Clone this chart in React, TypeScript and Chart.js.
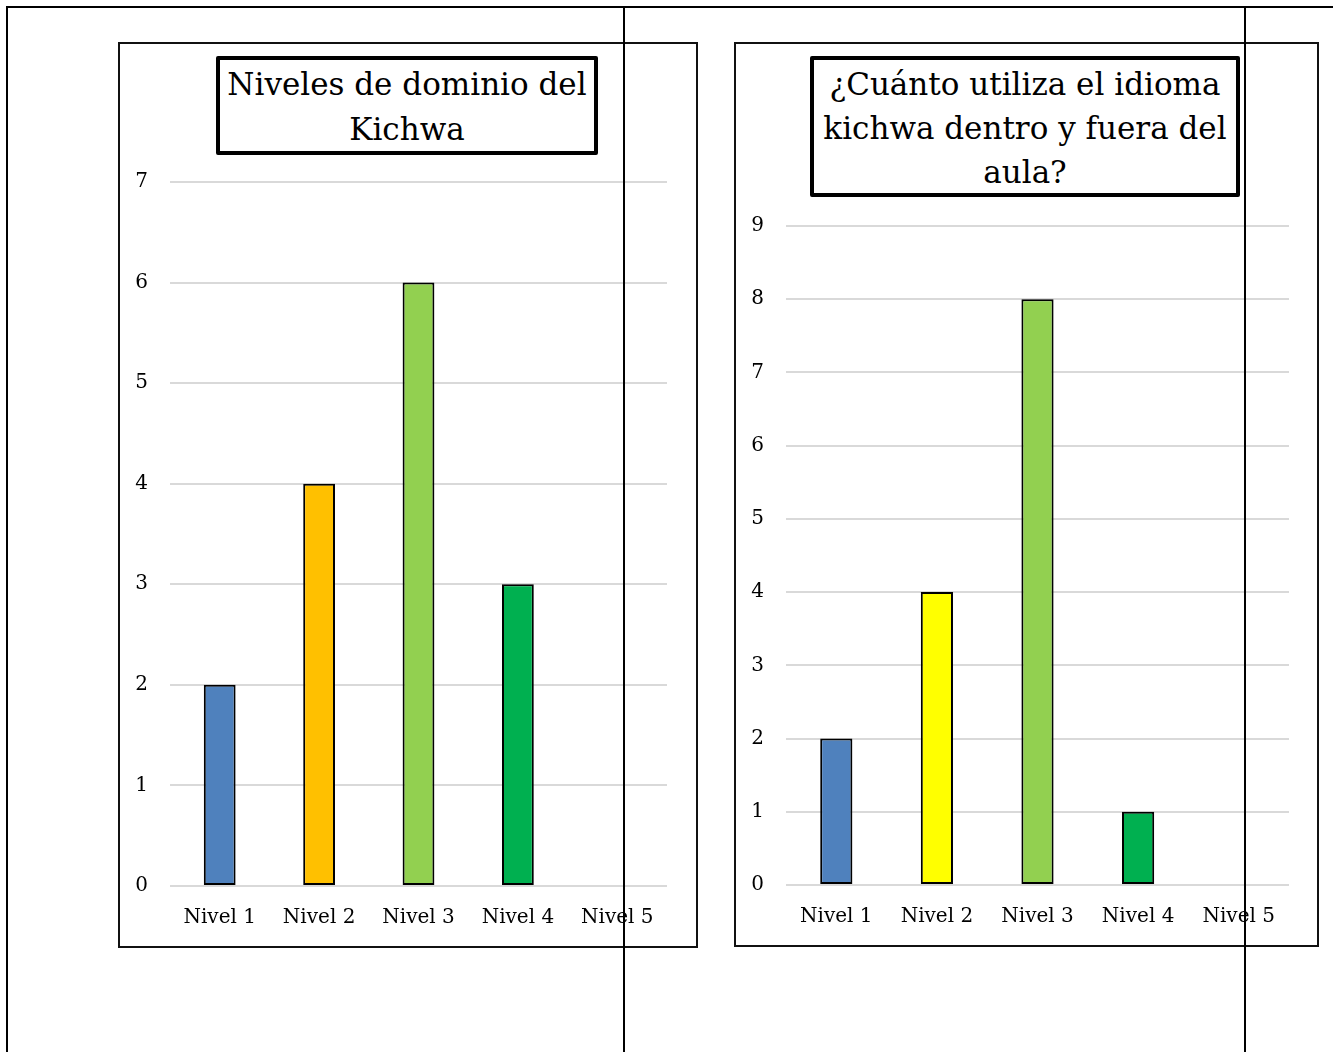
import React, { useEffect, useRef } from "react";
import { Chart, registerables } from "chart.js";

Chart.register(...registerables);

const categories = ["Nivel 1", "Nivel 2", "Nivel 3", "Nivel 4", "Nivel 5"];

const dominioTitle = ["Niveles de dominio del", "Kichwa"];
const dominioValues = [2, 4, 6, 3, 0];
const dominioColors = ["#4F81BD", "#FFC000", "#92D050", "#00B050", "#FFFFFF"];
const dominioMax = 7;

const usoTitle = ["¿Cuánto utiliza el idioma", "kichwa dentro y fuera del", "aula?"];
const usoValues = [2, 4, 8, 1, 0];
const usoColors = ["#4F81BD", "#FFFF00", "#92D050", "#00B050", "#FFFFFF"];
const usoMax = 9;

const SERIF = "'DejaVu Serif', serif";

type BarChartProps = {
  values: number[];
  colors: string[];
  max: number;
  width: number;
  height: number;
  padTop: number;
  padRight: number;
  padBottom: number;
  yAxisWidth: number;
  xAxisHeight: number;
};

function BarChart(props: BarChartProps) {
  const ref = useRef<HTMLCanvasElement | null>(null);
  useEffect(() => {
    if (!ref.current) return;
    const chart = new Chart(ref.current, {
      type: "bar",
      data: {
        labels: categories,
        datasets: [
          {
            data: props.values,
            backgroundColor: props.colors,
            borderColor: "#000000",
            borderWidth: 2,
            borderSkipped: false,
            barPercentage: 0.32,
            categoryPercentage: 1,
          },
        ],
      },
      options: {
        animation: false,
        responsive: false,
        maintainAspectRatio: false,
        devicePixelRatio: 1,
        layout: {
          padding: { left: 0, top: props.padTop, right: props.padRight, bottom: props.padBottom },
        },
        plugins: {
          legend: { display: false },
          tooltip: { enabled: false },
          title: { display: false },
        },
        scales: {
          x: {
            grid: { display: false, drawTicks: false },
            border: { display: false },
            ticks: {
              color: "#000000",
              font: { family: SERIF, size: 20 },
              padding: 20,
              maxRotation: 0,
            },
            afterFit: (s: any) => {
              s.height = props.xAxisHeight;
            },
          },
          y: {
            min: 0,
            max: props.max,
            grid: { color: "#d9d9d9", lineWidth: 2, drawTicks: false },
            border: { display: false },
            ticks: {
              stepSize: 1,
              color: "#000000",
              font: { family: SERIF, size: 20 },
              padding: 22,
            },
            afterFit: (s: any) => {
              s.width = props.yAxisWidth;
            },
          },
        },
      },
    });
    return () => chart.destroy();
  }, []);
  return (
    <canvas
      ref={ref}
      width={props.width}
      height={props.height}
      style={{ width: props.width, height: props.height, display: "block" }}
    />
  );
}

function TitleBox(props: { lines: string[]; left: number; top: number; width: number; height: number; lineHeight: number }) {
  return (
    <div
      style={{
        position: "absolute",
        left: props.left,
        top: props.top,
        width: props.width,
        height: props.height,
        boxSizing: "border-box",
        border: "4px solid #000",
        borderRadius: 2,
        background: "#fff",
        display: "flex",
        flexDirection: "column",
        justifyContent: "center",
        alignItems: "center",
        fontFamily: SERIF,
        fontSize: 31,
        lineHeight: props.lineHeight + "px",
        color: "#000",
        whiteSpace: "nowrap",
        paddingTop: 3,
        zIndex: 2,
      }}
    >
      {props.lines.map((l, i) => (
        <div key={i}>{l}</div>
      ))}
    </div>
  );
}

const line = (left: number, top: number, width: number, height: number): React.CSSProperties => ({
  position: "absolute",
  left,
  top,
  width,
  height,
  background: "#000",
  zIndex: 5,
});

export default function App() {
  return (
    <div
      style={{
        position: "absolute",
        left: 0,
        top: 0,
        width: 1333,
        height: 1052,
        overflow: "hidden",
        background: "#fff",
      }}
    >
      {/* page table lines */}
      <div style={line(6, 6, 1327, 2)} />
      <div style={line(6, 6, 2, 1046)} />
      <div style={line(623, 6, 2, 1046)} />
      <div style={line(1244, 6, 2, 1046)} />

      {/* left chart */}
      <div
        style={{
          position: "absolute",
          left: 118,
          top: 42,
          width: 580,
          height: 906,
          boxSizing: "border-box",
          border: "2px solid #111",
          background: "#fff",
        }}
      >
        <BarChart
          values={dominioValues}
          colors={dominioColors}
          max={dominioMax}
          width={576}
          height={902}
          padTop={138}
          padRight={29}
          padBottom={10}
          yAxisWidth={50}
          xAxisHeight={50}
        />
      </div>
      <TitleBox lines={dominioTitle} left={216} top={56} width={382} height={99} lineHeight={45} />

      {/* right chart */}
      <div
        style={{
          position: "absolute",
          left: 734,
          top: 42,
          width: 585,
          height: 905,
          boxSizing: "border-box",
          border: "2px solid #111",
          background: "#fff",
        }}
      >
        <BarChart
          values={usoValues}
          colors={usoColors}
          max={usoMax}
          width={581}
          height={901}
          padTop={182}
          padRight={28}
          padBottom={10}
          yAxisWidth={50}
          xAxisHeight={50}
        />
      </div>
      <TitleBox lines={usoTitle} left={810} top={56} width={430} height={141} lineHeight={44} />
    </div>
  );
}
